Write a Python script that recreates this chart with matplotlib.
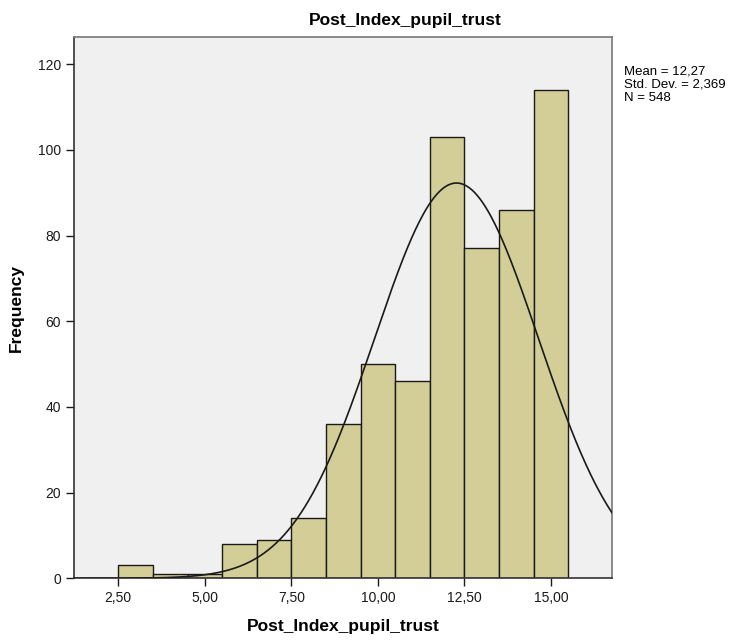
import numpy as np
import matplotlib
matplotlib.use("Agg")
import matplotlib.pyplot as plt

plt.rcParams['font.family'] = ['Liberation Sans', 'DejaVu Sans']

bin_edges = [2.5, 3.5, 4.5, 5.5, 6.5, 7.5, 8.5, 9.5, 10.5, 11.5, 12.5, 13.5, 14.5, 15.5]
counts = [3, 1, 1, 8, 9, 14, 36, 50, 46, 103, 77, 86, 114]
mean = 12.27
std = 2.369
n = 548
xticks = [2.5, 5.0, 7.5, 10.0, 12.5, 15.0]
xtick_labels = ["2,50", "5,00", "7,50", "10,00", "12,50", "15,00"]
yticks = [0, 20, 40, 60, 80, 100, 120]
stats_lines = ["Mean = 12,27", "Std. Dev. = 2,369", "N = 548"]

W, H = 734, 642
fig = plt.figure(figsize=(W / 100, H / 100), dpi=100)
ax = fig.add_axes([74 / W, 1 - 578.3 / H, (612.3 - 74) / W, (578.3 - 37.3) / H])
ax.set_facecolor('#f0f0f0')

lefts = np.array(bin_edges[:-1])
widths = np.diff(bin_edges)
ax.bar(lefts, counts, width=widths, align='edge', color='#d3ce97',
       edgecolor='#1a1a1a', linewidth=1.0, zorder=2)

xmin, xmax = 1.22, 16.77
xs = np.linspace(xmin, xmax, 400)
binw = widths[0]
ys = n * binw / (std * np.sqrt(2 * np.pi)) * np.exp(-0.5 * ((xs - mean) / std) ** 2)
ax.plot(xs, ys, color='#1a1a1a', linewidth=1.2, zorder=3)

ax.set_xlim(xmin, xmax)
ax.set_ylim(0, 126.3)
ax.set_xticks(xticks)
ax.set_xticklabels(xtick_labels)
ax.set_yticks(yticks)
ax.tick_params(axis='both', direction='out', length=6, width=1, labelsize=10,
               colors='#1a1a1a')
for s in ['left', 'bottom']:
    ax.spines[s].set_color('#333333')
    ax.spines[s].set_linewidth(1.2)
for s in ['top', 'right']:
    ax.spines[s].set_color('#777777')
    ax.spines[s].set_linewidth(1.2)

ax.set_xlabel('Post_Index_pupil_trust', fontsize=12.5, fontweight='bold', labelpad=10)
ax.set_ylabel('Frequency', fontsize=12.5, fontweight='bold', labelpad=10)
fig.text(0.552, 0.968, 'Post_Index_pupil_trust', ha='center', va='center',
         fontsize=12.5, fontweight='bold')
fig.text(624.5 / W, 1 - 66 / H, "\n".join(stats_lines), ha='left', va='top',
         fontsize=9.5, linespacing=1.1)

fig.savefig('out.png', dpi=100)
